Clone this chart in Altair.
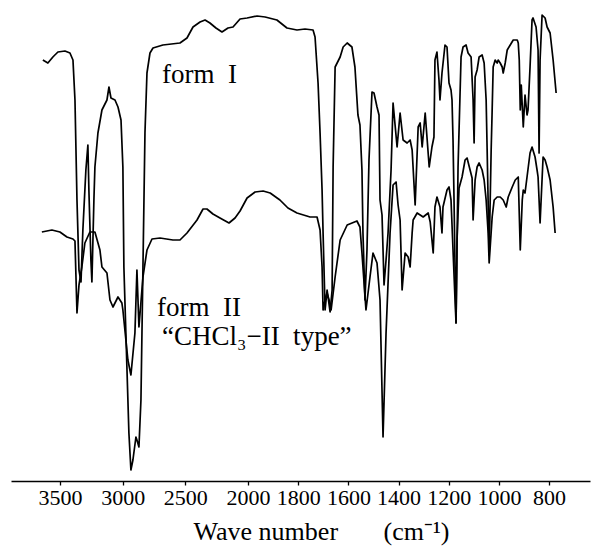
import altair as alt
import pandas as pd

# ---- data (wavenumber in cm-1, relative transmittance, arbitrary units) ----
wn_form1 = [3636, 3596, 3556, 3516, 3460, 3420, 3396, 3380, 3364, 3348, 3332, 3317, 3293, 3277, 3269,
            3253, 3245, 3229, 3221, 3197, 3165, 3125, 3109, 3093, 3061, 3037, 3013, 2998, 2990, 2966,
            2950, 2934, 2918, 2894, 2886, 2870, 2854, 2838, 2822, 2806, 2782, 2758, 2679, 2543, 2487,
            2439, 2383, 2343, 2304, 2256, 2208, 2160, 2120, 2064, 2008, 1964, 1932, 1885, 1845, 1805,
            1773, 1741, 1733, 1721, 1713, 1705, 1701, 1693, 1685, 1673, 1665, 1661, 1653, 1633, 1621,
            1605, 1586, 1574, 1562, 1554, 1546, 1542, 1534, 1526, 1518, 1506, 1498, 1486, 1478, 1474,
            1466, 1458, 1450, 1442, 1430, 1422, 1414, 1406, 1394, 1382, 1366, 1354, 1346, 1334, 1322,
            1314, 1306, 1294, 1286, 1278, 1267, 1259, 1255, 1247, 1239, 1235, 1227, 1215, 1207, 1199,
            1191, 1187, 1183, 1179, 1175, 1171, 1163, 1151, 1143, 1131, 1123, 1111, 1103, 1099, 1095,
            1087, 1079, 1067, 1059, 1051, 1047, 1039, 1031, 1027, 1023, 1015, 1007, 1003, 995, 987,
            983, 975, 967, 955, 943, 927, 923, 919, 915, 911, 903, 896, 888, 884, 876,
            868, 864, 852, 844, 840, 836, 828, 816, 808, 796, 784, 772]
t_form1 = [421, 418, 424, 429, 430, 428, 421, 381, 281, 211, 199, 251, 311, 336, 291,
           221, 199, 281, 314, 348, 371, 381, 394, 383, 381, 374, 361, 314, 214, 114,
           48, 11, 21, 44, 41, 34, 81, 214, 348, 408, 428, 433, 436, 438, 443,
           454, 459, 461, 458, 453, 449, 453, 454, 462, 463, 465, 464, 461, 453, 451,
           452, 451, 444, 398, 348, 291, 248, 171, 191, 169, 191, 314, 414, 424, 434,
           438, 434, 414, 366, 356, 311, 248, 181, 231, 321, 389, 388, 374, 366, 281,
           266, 196, 221, 248, 311, 378, 356, 334, 368, 341, 338, 341, 331, 276, 354,
           358, 334, 368, 341, 314, 334, 344, 421, 429, 401, 381, 408, 436, 434, 398,
           391, 381, 341, 281, 214, 158, 314, 424, 434, 436, 428, 424, 381, 338, 404,
           411, 424, 426, 418, 381, 331, 226, 331, 371, 414, 421, 418, 421, 418, 414,
           408, 418, 431, 436, 441, 441, 438, 421, 371, 396, 354, 386, 366, 371, 414,
           461, 463, 454, 431, 328, 421, 466, 463, 454, 448, 421, 388]

wn_form2 = [3644, 3564, 3500, 3444, 3396, 3380, 3364, 3348, 3325, 3301, 3261, 3221, 3181, 3165, 3125,
            3101, 3077, 3037, 3006, 2998, 2958, 2934, 2902, 2886, 2870, 2838, 2806, 2766, 2702, 2599,
            2543, 2487, 2407, 2359, 2328, 2280, 2224, 2152, 2104, 2064, 2008, 1972, 1940, 1912, 1873,
            1841, 1805, 1753, 1725, 1713, 1705, 1701, 1693, 1685, 1677, 1669, 1653, 1633, 1605, 1566,
            1554, 1546, 1530, 1514, 1502, 1486, 1474, 1462, 1450, 1434, 1422, 1410, 1402, 1394, 1386,
            1374, 1362, 1354, 1346, 1342, 1326, 1314, 1302, 1282, 1274, 1262, 1255, 1247, 1235, 1227,
            1223, 1207, 1199, 1191, 1183, 1175, 1171, 1167, 1159, 1147, 1135, 1127, 1115, 1107, 1103,
            1095, 1087, 1079, 1067, 1059, 1051, 1043, 1039, 1027, 1019, 1007, 995, 983, 971, 963,
            947, 935, 923, 915, 907, 903, 896, 888, 876, 868, 856, 848, 844, 836, 824,
            816, 808, 796, 784, 776]
t_form2 = [249, 251, 249, 244, 242, 240, 168, 196, 214, 238, 249, 249, 231, 214, 208,
           181, 174, 184, 178, 171, 121, 106, 148, 211, 154, 204, 231, 242, 243, 241,
           241, 248, 261, 272, 272, 267, 263, 258, 263, 270, 283, 289, 290, 288, 281,
           273, 268, 264, 264, 251, 214, 171, 181, 188, 181, 171, 204, 241, 256, 260,
           254, 228, 171, 204, 228, 218, 181, 44, 148, 248, 296, 299, 276, 261, 191,
           228, 224, 214, 248, 261, 268, 266, 264, 268, 259, 228, 274, 284, 274, 248,
           274, 291, 294, 281, 231, 181, 158, 241, 293, 304, 321, 323, 311, 303, 261,
           301, 314, 318, 311, 301, 281, 248, 218, 264, 281, 284, 284, 281, 274, 284,
           294, 301, 304, 231, 281, 291, 288, 304, 328, 334, 324, 311, 304, 258, 324,
           321, 314, 301, 274, 248]

tick_labels = [3500, 3000, 2500, 2000, 1800, 1600, 1400, 1200, 1000, 800]
x_extent = [3890, 637]          # wavenumber range shown on the axis
form_names = ["form I", "form II"]
label_lines = ["form\u00a0\u00a0I", "form\u00a0\u00a0II", "\u201cCHCl\u2083\u2212II\u00a0\u00a0type\u201d"]
axis_title = "Wave number" + "\u00a0" * 7 + "(cm\u207b\u00b9)"

# ---- chart ----
def to_u(w):
    # spectrometer chart: scale doubles below 2000 cm-1
    return 4000 - w if w >= 2000 else 6000 - 2 * w

df = pd.concat([
    pd.DataFrame({"wn": wn_form1, "t": t_form1, "form": form_names[0]}),
    pd.DataFrame({"wn": wn_form2, "t": t_form2, "form": form_names[1]}),
])

FONT = "Liberation Serif"
x_scale = alt.Scale(domain=[to_u(x_extent[0]), to_u(x_extent[1])], nice=False, zero=False)

lines = alt.Chart(df).transform_calculate(
    u="datum.wn >= 2000 ? 4000 - datum.wn : 6000 - 2 * datum.wn"
).mark_line(color="black", strokeWidth=1.7, strokeJoin="round").encode(
    x=alt.X("u:Q", scale=x_scale, axis=alt.Axis(
        values=[to_u(v) for v in tick_labels],
        labelExpr="datum.value <= 2000 ? format(4000 - datum.value, 'd') : format((6000 - datum.value) / 2, 'd')",
        grid=False, domainColor="black", domainWidth=1.6,
        tickColor="black", tickSize=4, tickWidth=1.3,
        labelFont=FONT, labelFontSize=22, labelColor="black", labelPadding=2,
        labelFlush=False, labelOverlap=False,
        title=axis_title, titleFont=FONT, titleFontSize=26, titleFontWeight="normal",
        titleColor="black", titleX=310, titleY=58, titleBaseline="alphabetic", titleAlign="center",
    )),
    y=alt.Y("t:Q", scale=alt.Scale(domain=[0, 481], nice=False, zero=False), axis=None),
    detail="form:N",
)

ann = pd.DataFrame({
    "label": label_lines,
    "px": [151, 146, 151],
    "py": [83, 316, 345],
})
texts = alt.Chart(ann).mark_text(
    align="left", baseline="alphabetic", font=FONT, fontSize=27, color="black"
).encode(
    x=alt.X("px:Q", scale=None), y=alt.Y("py:Q", scale=None), text="label:N"
)

chart = alt.layer(lines, texts).properties(
    width=579, height=481,
    padding={"left": 11, "top": 0, "right": 1, "bottom": 66},
    autosize=alt.AutoSizeParams(type="none"),
).configure_view(stroke=None)

chart.save("out.html", embed_options={"renderer": "svg", "actions": False})
